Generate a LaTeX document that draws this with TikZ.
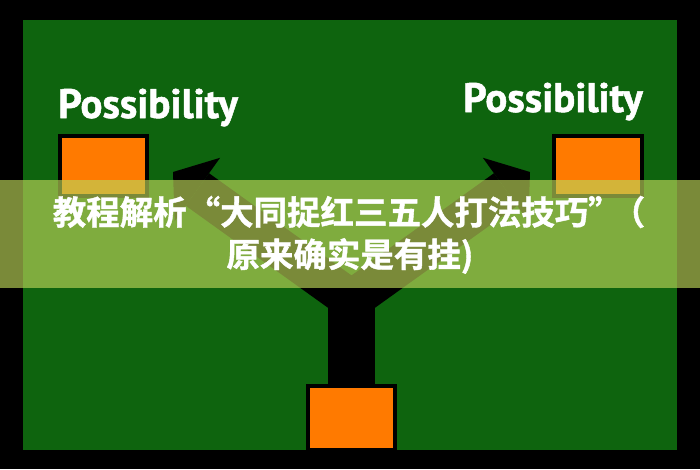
\documentclass[tikz,border=0pt]{standalone}
\usepackage{fontspec}
\newfontfamily\possfont{PT Sans}[BoldFont={PT Sans Bold}, BoldFeatures={FakeBold=1.2}]
\newfontfamily\cjkfont{Noto Sans CJK SC}[BoldFont={Noto Sans CJK SC Bold}, BoldFeatures={FakeBold=1.2}]
\usetikzlibrary{arrows.meta}
\definecolor{boardgreen}{RGB}{14,100,14}
\definecolor{boxorange}{RGB}{255,122,0}
\definecolor{bannergreen}{RGB}{188,212,89}
\tikzset{
  board/.style={fill=boardgreen},
  choicebox/.style={draw=black, fill=boxorange, line width=0.1cm, inner sep=0pt,
    minimum width=2.175cm, minimum height=1.5cm},
  possword/.style={text=white, inner sep=0pt, font=\possfont\bfseries\fontsize{29.3}{34}\selectfont},
  stemline/.style={draw=black, line width=1.15cm, line cap=butt},
  armline/.style={draw=black, line width=1cm, line cap=butt, line join=miter,
    {Triangle[length=0.75cm, width=1.95cm, line width=0pt]}-{Triangle[length=0.75cm, width=1.95cm, line width=0pt]}},
  banner/.style={fill=bannergreen, fill opacity=0.65},
  bannertext/.style={text=white, inner sep=0pt, font=\cjkfont\bfseries\fontsize{23.8}{31}\selectfont},
}
\begin{document}
\begin{tikzpicture}[x=0.025cm, y=-0.025cm]
\useasboundingbox (0,0) rectangle (700,469);
\fill[black] (0,0) rectangle (700,469);
\fill[board] (23,20) rectangle (677,450);
\coordinate (fork) at (351.5,300);
\coordinate (tipL) at (173,172);
\coordinate (tipR) at (530,172);
\node[choicebox] (boxL) at (103.5,166) {};
\node[choicebox] (boxR) at (598,166) {};
\node[choicebox, minimum height=1.6cm] (boxB) at (351.5,418) {};
\draw[stemline] (boxB.north) -- (fork);
\draw[armline] (tipL) -- (fork) -- (tipR);
\node[possword, anchor=base west] (possL) at (58,118) {Possibility};
\node[possword, anchor=base east] (possR) at (643,112) {Possibility};
\fill[banner] (0,180) rectangle (700,288);
\node[bannertext] (titleA) at (349,212) {教程解析“大同捉红三五人打法技巧”\hspace{-0.3em}（};
\node[bannertext] (titleB) at (350,256) {原来确实是有挂)};
\end{tikzpicture}
\end{document}
